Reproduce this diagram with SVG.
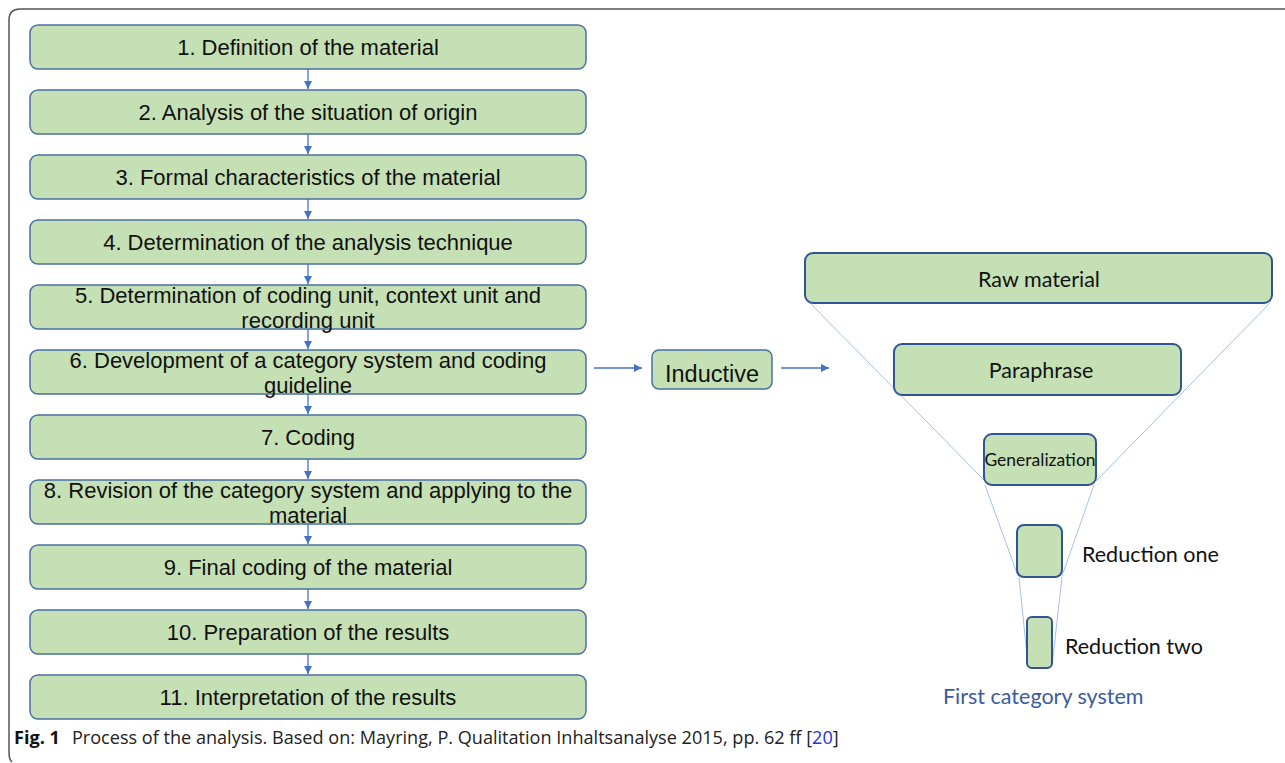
<svg xmlns="http://www.w3.org/2000/svg" width="1285" height="763" viewBox="0 0 1285 763">
<defs>
<style>
.step rect{fill:#c5e0b4;stroke:#4a6fa5;stroke-width:1.5}
.step text{font-family:"Liberation Sans",Arial,sans-serif;font-size:22px;fill:#111;text-anchor:middle}
.fn rect{fill:#c5e0b4;stroke:#2f5597;stroke-width:2}
.fn text{font-family:Lato,"Open Sans",sans-serif;font-size:21.5px;fill:#111;text-anchor:middle}
.lbl{font-family:Lato,"Open Sans",sans-serif;font-size:21.5px;fill:#111}
.conn line{stroke:#4472c4;stroke-width:1.3;marker-end:url(#ah)}
.funnel line{stroke:#a9c0e8;stroke-width:1}
.cap{font-family:"Open Sans","Noto Sans",sans-serif;font-size:18.1px;fill:#222}
</style>
<marker id="ah" viewBox="0 0 10 10" refX="10" refY="5" markerWidth="8" markerHeight="8" markerUnits="userSpaceOnUse" orient="auto">
<path d="M0,0 L10,5 L0,10 z" fill="#4472c4"/>
</marker>
</defs>
<rect width="1285" height="763" fill="#fff"/>
<path d="M1285,9 H20 Q9,9 9,20 V752 Q9,760 12,762" fill="none" stroke="#555" stroke-width="1.5"/>

<g class="funnel">
<line x1="810" y1="303" x2="985" y2="481"/>
<line x1="985" y1="485" x2="1018" y2="576"/>
<line x1="1019" y1="577" x2="1028" y2="666"/>
<line x1="1270" y1="303" x2="1096" y2="481"/>
<line x1="1094" y1="485" x2="1062" y2="576"/>
<line x1="1062" y1="577" x2="1052" y2="666"/>
</g>

<g class="conn">
<line x1="308" y1="69" x2="308" y2="89"/>
<line x1="308" y1="134" x2="308" y2="154"/>
<line x1="308" y1="199" x2="308" y2="219"/>
<line x1="308" y1="264" x2="308" y2="284"/>
<line x1="308" y1="329" x2="308" y2="349"/>
<line x1="308" y1="394" x2="308" y2="414"/>
<line x1="308" y1="459" x2="308" y2="479"/>
<line x1="308" y1="524" x2="308" y2="544"/>
<line x1="308" y1="589" x2="308" y2="609"/>
<line x1="308" y1="654" x2="308" y2="674"/>
<line x1="594" y1="368" x2="642" y2="368"/>
<line x1="781" y1="368" x2="829" y2="368"/>
</g>

<g id="s1" class="step"><rect x="30" y="25" width="556" height="44" rx="8"/><text x="308" y="55">1. Definition of the material</text></g>
<g id="s2" class="step"><rect x="30" y="90" width="556" height="44" rx="8"/><text x="308" y="120">2. Analysis of the situation of origin</text></g>
<g id="s3" class="step"><rect x="30" y="155" width="556" height="44" rx="8"/><text x="308" y="185">3. Formal characteristics of the material</text></g>
<g id="s4" class="step"><rect x="30" y="220" width="556" height="44" rx="8"/><text x="308" y="250">4. Determination of the analysis technique</text></g>
<g id="s5" class="step"><rect x="30" y="285" width="556" height="44" rx="8"/><text x="308" y="303">5. Determination of coding unit, context unit and</text><text x="308" y="328">recording unit</text></g>
<g id="s6" class="step"><rect x="30" y="350" width="556" height="44" rx="8"/><text x="308" y="368">6. Development of a category system and coding</text><text x="308" y="393">guideline</text></g>
<g id="s7" class="step"><rect x="30" y="415" width="556" height="44" rx="8"/><text x="308" y="445">7. Coding</text></g>
<g id="s8" class="step"><rect x="30" y="480" width="556" height="44" rx="8"/><text x="308" y="498">8. Revision of the category system and applying to the</text><text x="308" y="523">material</text></g>
<g id="s9" class="step"><rect x="30" y="545" width="556" height="44" rx="8"/><text x="308" y="575">9. Final coding of the material</text></g>
<g id="s10" class="step"><rect x="30" y="610" width="556" height="44" rx="8"/><text x="308" y="640">10. Preparation of the results</text></g>
<g id="s11" class="step"><rect x="30" y="675" width="556" height="44" rx="8"/><text x="308" y="705">11. Interpretation of the results</text></g>

<g id="inductive" class="step"><rect x="652" y="350" width="120" height="39" rx="7"/><text x="712" y="382" style="font-size:23.5px">Inductive</text></g>

<g id="raw" class="fn"><rect x="805" y="253" width="467" height="50" rx="8"/><text x="1039" y="287">Raw material</text></g>
<g id="para" class="fn"><rect x="894" y="344" width="287" height="51" rx="8"/><text x="1041" y="378">Paraphrase</text></g>
<g id="gen" class="fn"><rect x="984" y="434" width="112" height="51" rx="8"/><text x="1040" y="466" style="font-size:17.5px">Generalization</text></g>
<g id="red1" class="fn"><rect x="1017" y="525" width="45" height="52" rx="7"/></g>
<g id="red2" class="fn"><rect x="1027" y="617" width="25" height="51" rx="5"/></g>

<text class="lbl" x="1082" y="562">Reduction one</text>
<text class="lbl" x="1065" y="654">Reduction two</text>
<text class="lbl" x="943" y="704" style="fill:#3a5ba0">First category system</text>

<text class="cap" x="14" y="744"><tspan font-weight="bold" fill="#111">Fig. 1</tspan><tspan dx="12">Process of the analysis. Based on: Mayring, P. Qualitation Inhaltsanalyse 2015, pp. 62 ff [</tspan><tspan fill="#2233dd">20</tspan><tspan>]</tspan></text>
</svg>
